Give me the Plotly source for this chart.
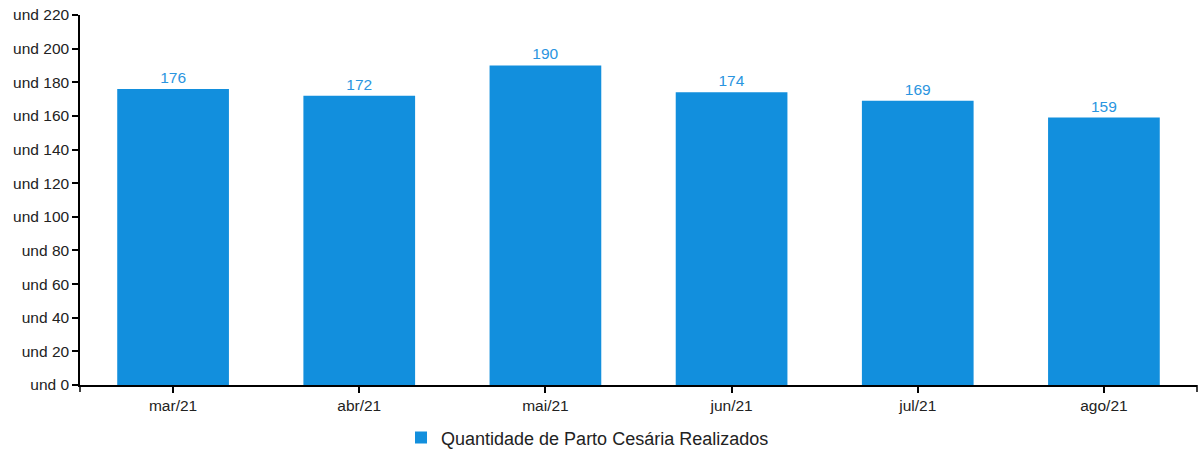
import plotly.graph_objects as go

meses = ["mar/21", "abr/21", "mai/21", "jun/21", "jul/21", "ago/21"]
partos = [176, 172, 190, 174, 169, 159]
y_ticks = [0, 20, 40, 60, 80, 100, 120, 140, 160, 180, 200, 220]
y_labels = ["und %d" % v for v in y_ticks]

BLUE = "#128fdd"

fig = go.Figure()
fig.add_trace(
    go.Bar(
        x=meses,
        y=partos,
        name="Quantidade de Parto Cesária Realizados",
        marker=dict(color=BLUE, line=dict(width=0)),
        text=partos,
        textposition="outside",
        textfont=dict(color="#2a95e0", size=15.5),
        cliponaxis=False,
    )
)

axis_font = dict(family="Liberation Sans, Arial, sans-serif", size=15.5, color="#222")

fig.update_layout(
    width=1199,
    height=450,
    margin=dict(l=80, r=2, t=15, b=65, autoexpand=False),
    plot_bgcolor="white",
    paper_bgcolor="white",
    font=dict(family="Liberation Sans, Arial, sans-serif", color="#222"),
    bargap=0.4,
    showlegend=True,
    legend=dict(
        orientation="h",
        xref="container",
        x=0.49,
        xanchor="center",
        yref="paper",
        y=-0.143,
        yanchor="middle",
        font=dict(size=18, color="#222"),
    ),
    xaxis=dict(
        automargin=False,
        showline=True,
        linecolor="#000",
        linewidth=1.5,
        ticks="outside",
        ticklen=6,
        tickcolor="#000",
        tickwidth=1.5,
        tickfont=axis_font,
        showgrid=False,
        zeroline=False,
    ),
    yaxis=dict(
        automargin=False,
        range=[0, 220],
        tickvals=y_ticks,
        ticktext=y_labels,
        ticklabeloverflow="allow",
        showline=True,
        linecolor="#000",
        linewidth=1.5,
        ticks="outside",
        ticklen=6,
        tickcolor="#000",
        tickwidth=1.5,
        tickfont=axis_font,
        showgrid=False,
        zeroline=False,
    ),
)

# pequenos traços nas pontas do eixo x (estilo d3)
for xe in [0, 1]:
    fig.add_shape(
        type="line",
        xref="x domain",
        yref="y domain",
        x0=xe,
        x1=xe,
        ysizemode="pixel",
        yanchor=0,
        y0=0,
        y1=-7,
        line=dict(color="#000", width=1.5),
    )

# tira a margem padrão do body para a figura ocupar a janela toda
fig.write_html(
    "out.html",
    config={"displayModeBar": False},
    post_script="document.body.style.margin='0';",
)
